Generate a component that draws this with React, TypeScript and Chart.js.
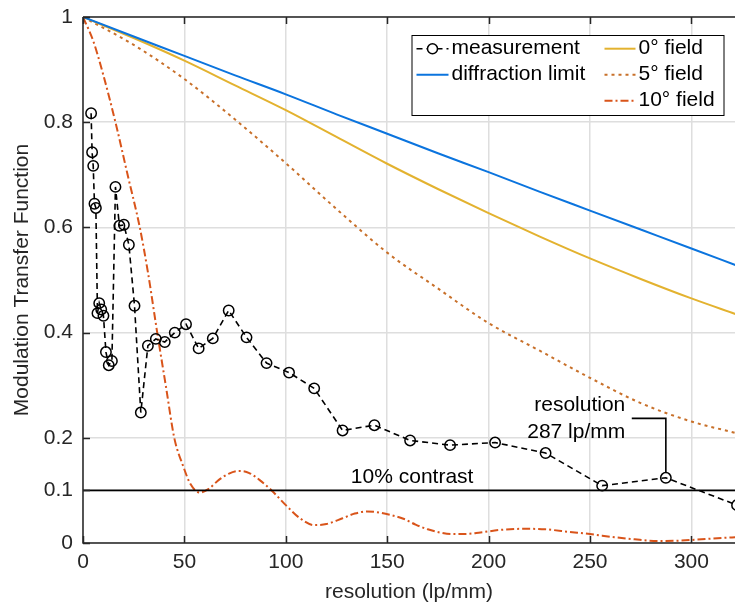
import React, { useEffect, useRef } from 'react';
import { Chart, registerables } from 'chart.js';

Chart.register(...registerables);

// ---------- axes ----------
const xTickValues = [0, 50, 100, 150, 200, 250, 300];
const yTickValues = [0, 0.1, 0.2, 0.4, 0.6, 0.8, 1];
const X_MIN = 0;
const X_MAX = 321.5;

// ---------- measurement (USAF target frequencies, lp/mm) ----------
const measurementX = [
  4, 4.49, 5.04, 5.66, 6.35, 7.13, 8, 8.98, 10.08, 11.31, 12.7, 14.25,
  16, 17.96, 20.16, 22.62, 25.4, 28.51, 32, 35.92, 40.32, 45.25, 50.8, 57.02,
  64, 71.84, 80.63, 90.51, 101.6, 114, 128, 143.7, 161.3, 181, 203.2, 228.1,
  256, 287.4, 322.5,
];
const measurementY = [
  0.817, 0.743, 0.717, 0.645, 0.637, 0.437, 0.456, 0.444, 0.432, 0.363, 0.338, 0.346,
  0.677, 0.603, 0.605, 0.567, 0.451, 0.248, 0.375, 0.388, 0.382, 0.4, 0.416, 0.37,
  0.389, 0.442, 0.391, 0.342, 0.324, 0.294, 0.214, 0.224, 0.195, 0.186, 0.191, 0.171,
  0.109, 0.124, 0.072,
];

// ---------- simulated curves ----------
const simX = [0, 25, 50, 75, 100, 125, 150, 175, 200, 225, 250, 275, 300, 322];
const diffractionY = [1, 0.963, 0.926, 0.889, 0.853, 0.815, 0.778, 0.741, 0.705, 0.668, 0.632, 0.596, 0.56, 0.528];
const field0Y = [1, 0.96, 0.917, 0.87, 0.823, 0.772, 0.721, 0.673, 0.627, 0.583, 0.541, 0.502, 0.465, 0.435];
const field5Y = [1, 0.947, 0.882, 0.805, 0.722, 0.635, 0.552, 0.484, 0.418, 0.366, 0.314, 0.266, 0.231, 0.209];

const field10X = [
  0, 5, 10, 16, 22, 28, 32, 36.6, 41, 45, 49.5, 53, 57.5, 62, 67, 72, 77, 82, 87, 93,
  100, 107, 114, 120, 128, 134, 140, 146, 152, 158, 164, 170, 176, 182, 188, 196, 206,
  217, 228, 240, 250, 262, 272, 283, 294, 305, 315, 322,
];
const field10Y = [
  1, 0.955, 0.89, 0.8, 0.7, 0.6, 0.515, 0.4, 0.295, 0.2, 0.145, 0.112, 0.096, 0.103, 0.12,
  0.132, 0.137, 0.133, 0.12, 0.1, 0.072, 0.047, 0.034, 0.036, 0.047, 0.056, 0.06, 0.058,
  0.053, 0.046, 0.035, 0.026, 0.02, 0.017, 0.017, 0.02, 0.025, 0.027, 0.026, 0.021, 0.017,
  0.011, 0.007, 0.004, 0.0045, 0.007, 0.0095, 0.011,
];

// ---------- reference lines / annotations ----------
const contrastX = [0, 330];
const contrastY = [0.1, 0.1];
const resolutionMarkX = [270.6, 287.4, 287.4];
const resolutionMarkY = [0.237, 0.237, 0.134];
const contrastText = '10% contrast';
const contrastTextAt = { x: 162.3, y: 0.1135 };
const resolutionText = ['resolution', '287 lp/mm'];
const resolutionTextAt = { x: 267.4, y: [0.251, 0.2] };

const legendLabels = ['measurement', 'diffraction limit', '0° field', '5° field', '10° field'];

// ---------- styles ----------
const FONT = '"Liberation Sans", Arial, Helvetica, sans-serif';
const AXIS = '#262626';
const GRID = '#dedede';
const BLUE = '#0b74de';
const YELLOW = '#e3b22f';
const BROWN = '#c8702a';
const RED = '#d9541a';
const DASH_MEAS = [6, 4];
const DASH_DOT = [3, 4];
const DASH_DASHDOT = [8, 3, 2, 3];

const pts = (xs: number[], ys: number[]) => xs.map((x, i) => ({ x, y: ys[i] }));

const decorPlugin = {
  id: 'decor',
  afterDatasetsDraw(chart: any) {
    const { ctx, chartArea: ca, scales } = chart;
    const xs = scales.x;
    const ys = scales.y;
    ctx.save();
    // axes lines
    ctx.strokeStyle = AXIS;
    ctx.lineWidth = 1.5;
    ctx.setLineDash([]);
    ctx.beginPath();
    ctx.moveTo(ca.left, ca.top);
    ctx.lineTo(ca.right + 2, ca.top);
    ctx.moveTo(ca.left, ca.top);
    ctx.lineTo(ca.left, ca.bottom);
    ctx.lineTo(ca.right + 2, ca.bottom);
    ctx.stroke();
    // inward ticks
    const TL = 7;
    ctx.beginPath();
    xTickValues.forEach((v) => {
      const px = Math.round(xs.getPixelForValue(v)) + 0.5;
      ctx.moveTo(px, ca.bottom);
      ctx.lineTo(px, ca.bottom - TL);
      ctx.moveTo(px, ca.top);
      ctx.lineTo(px, ca.top + TL);
    });
    yTickValues.forEach((v) => {
      const py = Math.round(ys.getPixelForValue(v)) + 0.5;
      ctx.moveTo(ca.left, py);
      ctx.lineTo(ca.left + TL, py);
    });
    ctx.stroke();

    // annotations
    ctx.fillStyle = '#000';
    ctx.font = `21px ${FONT}`;
    ctx.textBaseline = 'alphabetic';
    ctx.textAlign = 'center';
    ctx.fillText(contrastText, xs.getPixelForValue(contrastTextAt.x), ys.getPixelForValue(contrastTextAt.y));
    ctx.textAlign = 'right';
    resolutionText.forEach((t, i) => {
      ctx.fillText(t, xs.getPixelForValue(resolutionTextAt.x), ys.getPixelForValue(resolutionTextAt.y[i]));
    });

    // legend
    const bx = ca.right - 323.5;
    const by = ca.top + 18;
    const bw = 312;
    const bh = 80;
    ctx.fillStyle = '#fff';
    ctx.fillRect(bx, by, bw, bh);
    ctx.strokeStyle = '#000';
    ctx.lineWidth = 1;
    ctx.strokeRect(bx + 0.5, by + 0.5, bw, bh);

    const rows = [by + 13.7, by + 39.7, by + 65.7];
    const col1 = { x0: bx + 5, x1: bx + 37, tx: bx + 40 };
    const col2 = { x0: bx + 193, x1: bx + 224, tx: bx + 227 };
    const drawSample = (c: any, y: number, color: string, dash: number[], w: number) => {
      ctx.strokeStyle = color;
      ctx.lineWidth = w;
      ctx.setLineDash(dash);
      ctx.beginPath();
      ctx.moveTo(c.x0, y);
      ctx.lineTo(c.x1, y);
      ctx.stroke();
      ctx.setLineDash([]);
    };
    drawSample(col1, rows[0], '#000', [6, 4], 1.6);
    ctx.strokeStyle = '#000';
    ctx.lineWidth = 1.5;
    ctx.fillStyle = '#fff';
    ctx.beginPath();
    ctx.arc((col1.x0 + col1.x1) / 2, rows[0], 5, 0, Math.PI * 2);
    ctx.fill();
    ctx.stroke();
    drawSample(col1, rows[1], BLUE, [], 2);
    drawSample(col2, rows[0], YELLOW, [], 2);
    drawSample(col2, rows[1], BROWN, DASH_DOT, 2);
    drawSample(col2, rows[2], RED, DASH_DASHDOT, 2);

    ctx.fillStyle = '#000';
    ctx.font = `21px ${FONT}`;
    ctx.textAlign = 'left';
    ctx.textBaseline = 'middle';
    ctx.fillText(legendLabels[0], col1.tx, rows[0]);
    ctx.fillText(legendLabels[1], col1.tx, rows[1]);
    ctx.fillText(legendLabels[2], col2.tx, rows[0]);
    ctx.fillText(legendLabels[3], col2.tx, rows[1]);
    ctx.fillText(legendLabels[4], col2.tx, rows[2]);
    ctx.restore();
  },
};

export default function App() {
  const ref = useRef<HTMLCanvasElement | null>(null);

  useEffect(() => {
    if (!ref.current) return;
    const chart = new Chart(ref.current, {
      type: 'line',
      data: {
        datasets: [
          {
            label: 'measurement',
            data: pts(measurementX, measurementY),
            borderColor: '#000',
            borderWidth: 1.6,
            borderDash: DASH_MEAS,
            tension: 0,
            pointStyle: 'circle',
            pointRadius: 5.2,
            pointBorderWidth: 1.5,
            pointBorderColor: '#000',
            pointBackgroundColor: 'rgba(0,0,0,0)',
          },
          {
            label: 'resolution marker',
            data: pts(resolutionMarkX, resolutionMarkY),
            borderColor: '#000',
            borderWidth: 1.6,
            pointRadius: 0,
            tension: 0,
          },
          {
            label: '10% contrast',
            data: pts(contrastX, contrastY),
            borderColor: '#000',
            borderWidth: 1.6,
            pointRadius: 0,
            tension: 0,
          },
          {
            label: 'diffraction limit',
            data: pts(simX, diffractionY),
            borderColor: BLUE,
            borderWidth: 2,
            pointRadius: 0,
            cubicInterpolationMode: 'monotone',
          },
          {
            label: '0° field',
            data: pts(simX, field0Y),
            borderColor: YELLOW,
            borderWidth: 2,
            pointRadius: 0,
            cubicInterpolationMode: 'monotone',
          },
          {
            label: '5° field',
            data: pts(simX, field5Y),
            borderColor: BROWN,
            borderWidth: 2,
            borderDash: DASH_DOT,
            pointRadius: 0,
            cubicInterpolationMode: 'monotone',
          },
          {
            label: '10° field',
            data: pts(field10X, field10Y),
            borderColor: RED,
            borderWidth: 2,
            borderDash: DASH_DASHDOT,
            pointRadius: 0,
            cubicInterpolationMode: 'monotone',
          },
        ] as any,
      },
      options: {
        responsive: false,
        animation: false,
        events: [],
        layout: { autoPadding: false, padding: { top: 17, right: 0, left: 0, bottom: 0 } },
        plugins: { legend: { display: false }, tooltip: { enabled: false } },
        scales: {
          x: {
            type: 'linear',
            min: X_MIN,
            max: X_MAX,
            afterBuildTicks: (s: any) => {
              s.ticks = xTickValues.map((v) => ({ value: v }));
            },
            afterFit: (s: any) => {
              s.height = 64;
              s.paddingRight = 0;
              s.paddingLeft = 0;
            },
            grid: { color: GRID, lineWidth: 1.5, drawTicks: false },
            border: { display: false },
            ticks: {
              padding: 7,
              color: AXIS,
              font: { family: FONT, size: 21 },
              maxRotation: 0,
              autoSkip: false,
              callback: (v: any) => String(v),
            },
            title: {
              display: true,
              text: 'resolution (lp/mm)',
              color: AXIS,
              font: { family: FONT, size: 21 },
              padding: { top: 0, bottom: 2 },
            },
          },
          y: {
            type: 'linear',
            min: 0,
            max: 1,
            afterBuildTicks: (s: any) => {
              s.ticks = yTickValues.map((v) => ({ value: v }));
            },
            afterFit: (s: any) => {
              s.width = 83;
              s.paddingTop = 0;
              s.paddingBottom = 0;
            },
            grid: { color: GRID, lineWidth: 1.5, drawTicks: false },
            border: { display: false },
            ticks: {
              padding: 10,
              color: AXIS,
              font: { family: FONT, size: 21 },
              autoSkip: false,
              callback: (v: any) => String(v),
            },
            title: {
              display: true,
              text: 'Modulation Transfer Function',
              color: AXIS,
              font: { family: FONT, size: 21 },
              padding: { top: 9.4, bottom: 0 },
            },
          },
        },
      } as any,
      plugins: [decorPlugin],
    });
    return () => chart.destroy();
  }, []);

  return (
    <div style={{ position: 'absolute', left: 0, top: 0, width: 735, height: 607, overflow: 'hidden', background: '#fff' }}>
      <canvas ref={ref} width={735} height={607} style={{ display: 'block', width: 735, height: 607 }} />
    </div>
  );
}
